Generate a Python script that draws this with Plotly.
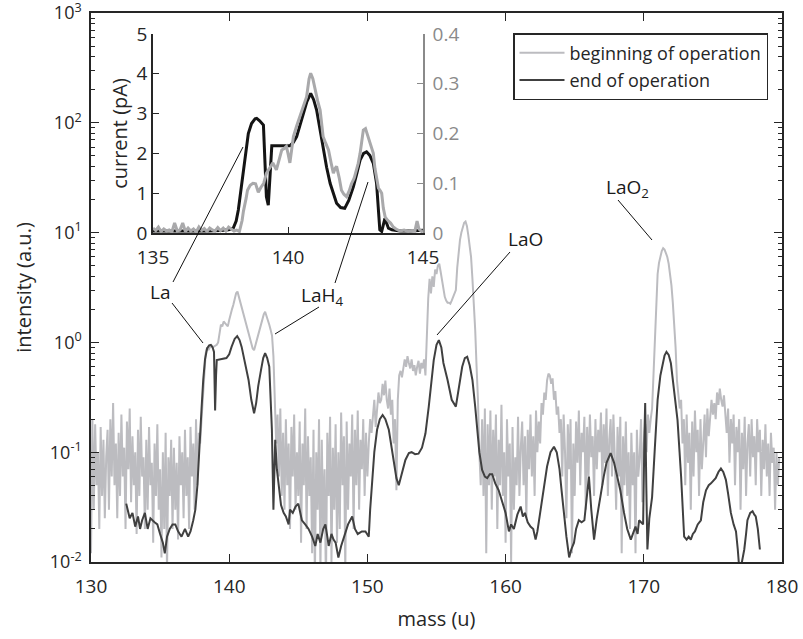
import numpy as np
import plotly.graph_objects as go

# ---------------- main spectrum: beginning of operation (grey), sampled every 0.1 u from 130.0 ----------------
begin_start = 130.0
begin_step = 0.1
begin_intensity = [
    # 130
    0.012, 0.2, 0.03, 0.18, 0.05, 0.1, 0.02, 0.17, 0.04, 0.13,
    # 131
    0.025, 0.09, 0.16, 0.03, 0.2, 0.06, 0.28, 0.05, 0.12, 0.025,
    # 132
    0.15, 0.04, 0.22, 0.06, 0.11, 0.02, 0.19, 0.07, 0.25, 0.035,
    # 133
    0.14, 0.05, 0.1, 0.018, 0.16, 0.04, 0.21, 0.06, 0.09, 0.02,
    # 134
    0.13, 0.03, 0.17, 0.05, 0.08, 0.015, 0.12, 0.04, 0.18, 0.03,
    # 135
    0.07, 0.011, 0.1, 0.02, 0.15, 0.008, 0.09, 0.04, 0.13, 0.02,
    # 136
    0.11, 0.03, 0.08, 0.016, 0.14, 0.05, 0.1, 0.025, 0.16, 0.04,
    # 137
    0.09, 0.02, 0.17, 0.06, 0.12, 0.03, 0.2, 0.05, 0.15, 0.12,
    # 138
    0.2, 0.35, 0.6, 0.8, 0.9, 0.85, 0.9, 0.95, 0.9, 0.92,
    # 139
    0.93, 0.95, 1.0, 1.25, 1.45, 1.4, 1.55, 1.5, 1.45, 1.4,
    # 140
    1.6, 1.85, 2.0, 2.2, 2.5, 2.8, 2.9, 2.6, 2.3, 2.1,
    # 141
    1.85, 1.65, 1.5, 1.35, 1.2, 1.05, 0.95, 0.88, 0.85, 0.95,
    # 142
    1.05, 1.15, 1.25, 1.45, 1.65, 1.8, 1.9, 1.75, 1.55, 1.45,
    # 143
    1.3, 1.15, 0.75, 0.3, 0.12, 0.22, 0.06, 0.25, 0.04, 0.15,
    # 144
    0.03, 0.2, 0.05, 0.12, 0.02, 0.17, 0.06, 0.22, 0.03, 0.1,
    # 145
    0.04, 0.19, 0.015, 0.12, 0.05, 0.25, 0.02, 0.14, 0.04, 0.09,
    # 146
    0.012, 0.16, 0.007, 0.1, 0.03, 0.2, 0.008, 0.13, 0.02, 0.07,
    # 147
    0.006, 0.15, 0.04, 0.21, 0.01, 0.11, 0.03, 0.18, 0.015, 0.1,
    # 148
    0.02, 0.23, 0.05, 0.14, 0.008, 0.19, 0.03, 0.12, 0.06, 0.22,
    # 149
    0.02, 0.16, 0.05, 0.24, 0.03, 0.13, 0.07, 0.2, 0.04, 0.15,
    # 150
    0.06, 0.12, 0.2, 0.15, 0.22, 0.3, 0.17, 0.25, 0.35, 0.28,
    # 151
    0.3, 0.42, 0.33, 0.45, 0.3, 0.25, 0.38, 0.22, 0.3, 0.12,
    # 152
    0.2, 0.045, 0.3, 0.5, 0.55, 0.48, 0.62, 0.7, 0.6, 0.75,
    # 153
    0.65, 0.58, 0.7, 0.55, 0.62, 0.5, 0.6, 0.68, 0.52, 0.65,
    # 154
    0.58, 0.7, 0.5, 1.2, 2.5, 3.8, 2.8, 4.0, 3.2, 4.6,
    # 155
    4.2, 5.0, 5.2, 4.4, 3.6, 3.0, 2.6, 2.4, 2.3, 2.3,
    # 156
    2.25, 2.4, 2.6, 2.8, 3.0, 4.8, 6.9, 8.6, 10.0, 11.3,
    # 157
    12.3, 12.6, 11.5, 9.5, 7.8, 6.0, 3.8, 2.4, 1.3, 0.6,
    # 158
    0.3, 0.1, 0.05, 0.2, 0.04, 0.25, 0.012, 0.18, 0.05, 0.24,
    # 159
    0.03, 0.16, 0.06, 0.22, 0.02, 0.13, 0.05, 0.27, 0.04, 0.1,
    # 160
    0.015, 0.2, 0.06, 0.12, 0.01, 0.17, 0.03, 0.09, 0.05, 0.21,
    # 161
    0.04, 0.11, 0.19, 0.05, 0.14, 0.025, 0.16, 0.07, 0.22, 0.06,
    # 162
    0.14, 0.04, 0.24, 0.1, 0.19, 0.12, 0.28, 0.22, 0.35, 0.3,
    # 163
    0.45, 0.52, 0.5, 0.42, 0.47, 0.3, 0.36, 0.22, 0.26, 0.15,
    # 164
    0.2, 0.06, 0.22, 0.1, 0.025, 0.18, 0.07, 0.2, 0.012, 0.12,
    # 165
    0.04, 0.19, 0.08, 0.24, 0.05, 0.15, 0.1, 0.21, 0.03, 0.17,
    # 166
    0.06, 0.22, 0.09, 0.14, 0.04, 0.2, 0.07, 0.16, 0.1, 0.23,
    # 167
    0.05, 0.18, 0.08, 0.25, 0.04, 0.13, 0.2, 0.06, 0.22, 0.09,
    # 168
    0.03, 0.17, 0.06, 0.21, 0.012, 0.14, 0.05, 0.19, 0.04, 0.1,
    # 169
    0.02, 0.15, 0.05, 0.1, 0.012, 0.16, 0.06, 0.09, 0.2, 0.035,
    # 170
    0.12, 0.18, 0.1, 0.22, 0.15, 0.2, 0.25, 0.5, 1.0, 2.2,
    # 171
    4.2, 5.3, 6.2, 6.8, 7.2, 7.0, 6.5, 6.0, 5.2, 4.2,
    # 172
    3.3, 2.3, 1.5, 0.9, 0.45, 0.35, 0.25, 0.3, 0.12, 0.2,
    # 173
    0.05, 0.22, 0.08, 0.15, 0.03, 0.19, 0.06, 0.24, 0.1, 0.16,
    # 174
    0.04, 0.2, 0.07, 0.12, 0.22, 0.09, 0.25, 0.14, 0.2, 0.3,
    # 175
    0.22, 0.28, 0.2, 0.35, 0.27, 0.38, 0.3, 0.26, 0.33, 0.2,
    # 176
    0.15, 0.25, 0.08, 0.2, 0.12, 0.22, 0.05, 0.17, 0.1, 0.2,
    # 177
    0.03, 0.15, 0.07, 0.21, 0.04, 0.12, 0.18, 0.06, 0.2, 0.09,
    # 178
    0.14, 0.05, 0.2, 0.1, 0.16, 0.04, 0.13, 0.07, 0.18, 0.06,
    # 179
    0.12, 0.04, 0.15, 0.08, 0.11, 0.03, 0.1, 0.05, 0.09,
]
begin_mass = np.round(begin_start + begin_step * np.arange(len(begin_intensity)), 2)

# ---------------- main spectrum: end of operation (dark) ----------------
end_mass = [
    132.55, 132.8, 133.0, 133.2, 133.4, 133.55, 133.7, 133.9, 134.1, 134.3, 134.6, 134.8,
    135.0, 135.2, 135.34, 135.5, 135.7, 135.9, 136.1, 136.3, 136.55, 136.8, 137.03, 137.2,
    137.4, 137.55, 137.7, 137.87, 138.0, 138.12, 138.25, 138.4, 138.55, 138.67, 138.8, 138.9,
    138.98, 139.05, 139.1, 139.8, 140.0, 140.17, 140.4, 140.58, 140.75, 140.9, 141.15, 141.4,
    141.6, 141.8, 141.95, 142.1, 142.3, 142.46, 142.6, 142.75, 142.9, 143.0, 143.09, 143.2,
    143.33, 143.45, 143.57, 143.75, 143.94, 144.1, 144.3, 144.4, 144.6, 144.8, 145.0, 145.26,
    145.5, 145.74, 146.0, 146.23, 146.4, 146.6, 146.8, 146.96, 147.1, 147.2, 147.4, 147.55,
    147.7, 147.9, 148.1, 148.4, 148.6, 148.9, 149.1, 149.3, 149.6, 149.86, 150.1, 150.2,
    150.34, 150.5, 150.7, 150.9, 151.1, 151.3, 151.55, 151.75, 151.9, 152.1, 152.27, 152.5,
    152.75, 153.0, 153.2, 153.45, 153.7, 153.95, 154.2, 154.44, 154.6, 154.8, 155.0, 155.17,
    155.35, 155.5, 155.8, 156.1, 156.4, 156.6, 156.86, 157.05, 157.22, 157.4, 157.6, 157.8,
    157.95, 158.1, 158.3, 158.5, 158.67, 158.85, 159.03, 159.25, 159.5, 159.75, 160.0, 160.24,
    160.4, 160.6, 160.85, 161.09, 161.25, 161.4, 161.6, 161.8, 162.0, 162.17, 162.3, 162.5,
    162.75, 163.0, 163.25, 163.5, 163.7, 163.9, 164.05, 164.2, 164.4, 164.6, 164.75, 164.95,
    165.1, 165.3, 165.5, 165.7, 165.85, 166.03, 166.2, 166.4, 166.6, 166.9, 167.1, 167.3,
    167.6, 167.85, 168.1, 168.3, 168.57, 168.8, 169.06, 169.25, 169.4, 169.55, 169.66, 169.8,
    169.95, 170.05, 170.1, 170.18, 170.26, 170.4, 170.6, 170.8, 171.0, 171.2, 171.35, 171.5,
    171.64, 171.8, 171.96, 172.2, 172.44, 172.7, 172.92, 173.1, 173.25, 173.4, 173.55, 173.7,
    173.9, 174.13, 174.3, 174.5, 174.7, 174.86, 175.05, 175.2, 175.4, 175.58, 175.75, 175.94,
    176.1, 176.3, 176.5, 176.67, 176.8, 176.9, 177.1, 177.27, 177.4, 177.5, 177.7, 177.87,
    178.0, 178.1, 178.25, 178.4,
]
end_intensity = [
    0.034, 0.025, 0.028, 0.021, 0.026, 0.02, 0.024, 0.028, 0.02, 0.025, 0.023, 0.022,
    0.018, 0.015, 0.012, 0.017, 0.02, 0.022, 0.022, 0.019, 0.017, 0.02, 0.017, 0.019,
    0.024, 0.03, 0.05, 0.11, 0.25, 0.455, 0.7, 0.88, 0.94, 0.95, 0.9, 0.82,
    0.24, 0.5, 0.69, 0.72, 0.78, 0.91, 1.08, 1.14, 1.05, 0.91, 0.65, 0.455,
    0.3, 0.226, 0.28, 0.4, 0.56, 0.72, 0.8, 0.72, 0.6, 0.3, 0.16, 0.03,
    0.13, 0.07, 0.049, 0.033, 0.028, 0.026, 0.022, 0.03, 0.028, 0.032, 0.034, 0.024,
    0.022, 0.02, 0.017, 0.014, 0.018, 0.015, 0.02, 0.022, 0.017, 0.014, 0.018, 0.016,
    0.015, 0.011, 0.014, 0.019, 0.022, 0.026, 0.02, 0.018, 0.019, 0.019, 0.017, 0.03,
    0.056, 0.1, 0.16, 0.2, 0.218, 0.2, 0.16, 0.11, 0.079, 0.058, 0.05, 0.065,
    0.085, 0.098, 0.1, 0.096, 0.097, 0.11, 0.148, 0.26, 0.42, 0.69, 0.95, 1.05,
    0.9, 0.65, 0.455, 0.3, 0.26, 0.38, 0.6, 0.72, 0.74, 0.62, 0.455, 0.26,
    0.16, 0.1, 0.069, 0.06, 0.058, 0.063, 0.063, 0.052, 0.045, 0.036, 0.028, 0.019,
    0.022, 0.02, 0.027, 0.032, 0.026, 0.028, 0.023, 0.021, 0.02, 0.016, 0.019, 0.028,
    0.045, 0.074, 0.1, 0.112, 0.1, 0.07, 0.045, 0.028, 0.017, 0.011, 0.013, 0.015,
    0.02, 0.024, 0.023, 0.024, 0.035, 0.06, 0.03, 0.016, 0.025, 0.045, 0.06, 0.08,
    0.098, 0.08, 0.056, 0.045, 0.028, 0.02, 0.016, 0.019, 0.021, 0.018, 0.024, 0.023,
    0.022, 0.15, 0.28, 0.05, 0.013, 0.025, 0.039, 0.11, 0.3, 0.5, 0.645, 0.76,
    0.82, 0.77, 0.645, 0.36, 0.196, 0.06, 0.017, 0.016, 0.017, 0.016, 0.018, 0.019,
    0.022, 0.024, 0.035, 0.045, 0.05, 0.052, 0.055, 0.058, 0.066, 0.071, 0.066, 0.056,
    0.042, 0.028, 0.022, 0.019, 0.013, 0.009, 0.01, 0.013, 0.018, 0.024, 0.028, 0.029,
    0.027, 0.026, 0.02, 0.013,
]

# ---------------- inset: current (pA), end of operation (left axis) ----------------
inset_end_mass = [
    135.0, 135.5, 136.0, 136.5, 137.0, 137.5, 137.8, 137.97, 138.08, 138.16, 138.25, 138.35,
    138.45, 138.53, 138.65, 138.78, 138.84, 138.95, 139.09, 139.15, 139.2, 139.27, 139.33, 139.4,
    140.07, 140.2, 140.32, 140.45, 140.57, 140.7, 140.84, 140.95, 141.06, 141.18, 141.3, 141.43,
    141.56, 141.68, 141.8, 141.95, 142.1, 142.25, 142.42, 142.55, 142.67, 142.8, 142.91, 143.03,
    143.16, 143.28, 143.35, 143.4, 143.47, 143.52, 143.59, 143.65, 143.72, 143.85, 144.15, 144.5,
    145.0,
]
inset_end_current = [
    0.05, 0.05, 0.04, 0.04, 0.05, 0.06, 0.08, 0.12, 0.3, 0.58, 1.05, 1.67,
    2.15, 2.5, 2.75, 2.87, 2.88, 2.82, 2.71, 1.8, 0.91, 0.7, 1.5, 2.19,
    2.19, 2.28, 2.42, 2.7, 3.0, 3.3, 3.51, 3.35, 3.09, 2.6, 2.09, 1.65,
    1.25, 0.97, 0.75, 0.64, 0.62, 0.82, 1.16, 1.5, 1.83, 2.0, 2.04, 1.95,
    1.75, 1.25, 0.6, 0.08, 0.04, 0.2, 0.37, 0.25, 0.12, 0.08, 0.05, 0.05,
    0.07,
]

# ---------------- inset: beginning of operation (right axis) ----------------
inset_begin_mass = [
    135.0, 135.1, 135.2, 135.3, 135.4, 135.5, 135.6, 135.7, 135.8, 135.9,
    136.0, 136.1, 136.2, 136.3, 136.4, 136.5, 136.6, 136.7, 136.8, 136.9,
    137.0, 137.1, 137.2, 137.3, 137.4, 137.5, 137.6, 137.7, 137.8, 137.9,
    138.0, 138.1, 138.2, 138.3, 138.35, 138.45, 138.5, 138.6, 138.7, 138.8,
    138.9, 139.0, 139.1, 139.2, 139.3, 139.44, 139.57, 139.67, 139.77, 139.86,
    139.94, 140.0, 140.07, 140.13, 140.2, 140.32, 140.44, 140.56, 140.69, 140.78,
    140.84, 140.92, 141.0, 141.1, 141.19, 141.3, 141.4, 141.5, 141.6, 141.68,
    141.75, 141.8, 141.9, 141.98, 142.07, 142.17, 142.27, 142.35, 142.45, 142.54,
    142.6, 142.67, 142.73, 142.79, 142.87, 142.95, 143.03, 143.1, 143.16, 143.22,
    143.28, 143.35, 143.42, 143.47, 143.53, 143.6, 143.7, 143.8, 143.9, 144.0,
    144.15, 144.3, 144.45, 144.6, 144.7, 144.78, 144.85, 144.95, 145.0,
]
inset_begin_value = [
    0.01, 0.005, 0.012, 0.003, 0.008, 0.004, 0.006, 0.002, 0.02, 0.004,
    0.006, 0.02, 0.003, 0.01, 0.004, 0.008, 0.002, 0.012, 0.005, 0.009,
    0.003, 0.01, 0.006, 0.004, 0.011, 0.005, 0.01, 0.004, 0.012, 0.008,
    0.004, 0.006, 0.003, 0.025, 0.044, 0.07, 0.086, 0.096, 0.1, 0.099,
    0.082, 0.092, 0.1, 0.12, 0.13, 0.141, 0.127, 0.15, 0.167, 0.17,
    0.174, 0.16, 0.141, 0.165, 0.194, 0.215, 0.234, 0.25, 0.274, 0.31,
    0.321, 0.31, 0.288, 0.265, 0.247, 0.194, 0.18, 0.167, 0.14, 0.12,
    0.13, 0.134, 0.11, 0.086, 0.078, 0.073, 0.085, 0.099, 0.11, 0.127,
    0.14, 0.16, 0.185, 0.207, 0.21, 0.195, 0.181, 0.17, 0.16, 0.13,
    0.11, 0.09, 0.085, 0.08, 0.05, 0.032, 0.025, 0.02, 0.012, 0.008,
    0.004, 0.006, 0.003, 0.005, 0.004, 0.024, 0.008, 0.003, 0.005,
]

# ---------------- tick labels ----------------
x_ticks = [130, 140, 150, 160, 170, 180]
y_tickvals = [0.01, 0.1, 1, 10, 100, 1000]
y_ticktext = ["10<sup>-2</sup>", "10<sup>-1</sup>", "10<sup>0</sup>",
              "10<sup>1</sup>", "10<sup>2</sup>", "10<sup>3</sup>"]
inset_x_ticks = [135, 140, 145]
legend_names = ["beginning of operation", "end of operation"]

# ---------------- style ----------------
FONT = "Open Sans"
AX = "#262626"
GREY_MAIN = "#bcbcc0"
DARK_MAIN = "#404040"
GREY_INSET = "#a9a9ab"
BLACK_INSET = "#141414"
RIGHT_AX = "#8a8a8a"

W, H = 803, 639
ML, MR, MT, MB = 91, 21, 13, 77
PW, PH = W - ML - MR, H - MT - MB


def px(xp):
    return (xp - ML) / PW


def py(yp):
    return (H - MB - yp) / PH


fig = go.Figure()

fig.add_trace(go.Scatter(x=begin_mass, y=begin_intensity, mode="lines", name=legend_names[0],
                         line=dict(color=GREY_MAIN, width=2), legendgroup="a"))
fig.add_trace(go.Scatter(x=end_mass, y=end_intensity, mode="lines", name=legend_names[1],
                         line=dict(color=DARK_MAIN, width=2), legendgroup="b"))

fig.add_trace(go.Scatter(x=inset_begin_mass, y=inset_begin_value, mode="lines", showlegend=False,
                         line=dict(color=GREY_INSET, width=3), xaxis="x2", yaxis="y3"))
fig.add_trace(go.Scatter(x=inset_end_mass, y=inset_end_current, mode="lines", showlegend=False,
                         line=dict(color=BLACK_INSET, width=3), xaxis="x2", yaxis="y2"))

TICK_SIZE = 19
TITLE_SIZE = 20
tickfont = dict(family=FONT, size=TICK_SIZE, color=AX)

inset_x0, inset_x1, inset_y0, inset_y1 = 153, 423, 34, 233

fig.update_layout(
    width=W, height=H,
    margin=dict(l=ML, r=MR, t=MT, b=MB, autoexpand=False),
    paper_bgcolor="white", plot_bgcolor="white",
    font=dict(family=FONT, size=TICK_SIZE, color=AX),
    xaxis=dict(domain=[0, 1], range=[130, 180], tickmode="array", tickvals=x_ticks, automargin=False,
               showline=True, linecolor=AX, linewidth=1.5, mirror="allticks",
               ticks="inside", ticklen=8, tickwidth=1.2, tickcolor=AX, ticklabelstandoff=6,
               ticklabeloverflow="allow",
               showgrid=False, zeroline=False, tickfont=tickfont,
               title=dict(text="mass (u)", font=dict(family=FONT, size=TITLE_SIZE, color=AX), standoff=14)),
    yaxis=dict(domain=[0, 1], type="log", range=[-2, 3], tickmode="array", automargin=False,
               tickvals=y_tickvals, ticktext=y_ticktext, ticklabeloverflow="allow",
               showline=True, linecolor=AX, linewidth=1.5, mirror="allticks",
               ticks="inside", ticklen=8, tickwidth=1.2, tickcolor=AX, ticklabelstandoff=4,
               minor=dict(tickmode="array",
                          tickvals=[m * 10.0 ** e for e in range(-2, 3) for m in range(2, 10)],
                          ticks="inside", ticklen=4, tickwidth=1, tickcolor=AX, showgrid=False),
               showgrid=False, zeroline=False, tickfont=dict(family=FONT, size=18, color=AX),
               title=dict(text="intensity (a.u.)", font=dict(family=FONT, size=TITLE_SIZE, color=AX), standoff=13)),
    xaxis2=dict(domain=[px(inset_x0), px(inset_x1)], anchor="y2", range=[135, 145], automargin=False,
                tickmode="array", tickvals=inset_x_ticks, ticklabeloverflow="allow", ticklabelstandoff=6,
                showline=True, linecolor=AX, linewidth=1.5, ticks="inside", ticklen=6,
                tickcolor=AX, showgrid=False, zeroline=False, tickfont=tickfont),
    yaxis2=dict(domain=[py(inset_y1), py(inset_y0)], anchor="x2", range=[0, 5], dtick=1, automargin=False,
                showline=True, linecolor=AX, linewidth=1.5, ticks="inside", ticklen=6,
                ticklabeloverflow="allow",
                tickcolor=AX, showgrid=False, zeroline=False, tickfont=tickfont,
                title=dict(text="current (pA)", font=dict(family=FONT, size=TITLE_SIZE, color=AX), standoff=4)),
    yaxis3=dict(overlaying="y2", anchor="x2", side="right", range=[0, 0.4], dtick=0.1, automargin=False,
                showline=True, linecolor=RIGHT_AX, linewidth=1.5, ticks="inside", ticklen=6,
                tickcolor=RIGHT_AX, showgrid=False, zeroline=False, ticklabelstandoff=4,
                ticklabeloverflow="allow",
                tickfont=dict(family=FONT, size=TICK_SIZE, color=RIGHT_AX)),
    legend=dict(x=px(513), y=py(33), xanchor="left", yanchor="top",
                bgcolor="white", bordercolor=AX, borderwidth=1.5, itemwidth=45,
                font=dict(family=FONT, size=18, color=AX), tracegroupgap=1),
)

# annotation labels
labels = [("La", 160, 292), ("LaH<sub>4</sub>", 322, 296), ("LaO", 525, 239), ("LaO<sub>2</sub>", 627, 188)]
for txt, lx, ly in labels:
    fig.add_annotation(text=txt, x=px(lx), y=py(ly), xref="paper", yref="paper",
                       showarrow=False, xanchor="center", yanchor="middle",
                       font=dict(family=FONT, size=19, color="#1a1a1a"))

leaders = [(172, 303, 203, 343), (173, 282, 243, 147), (319, 307, 275, 334),
           (335, 283, 368, 182), (510, 252, 437, 335), (618, 200, 652, 240)]
for x0, y0, x1, y1 in leaders:
    fig.add_shape(type="line", xref="paper", yref="paper", x0=px(x0), y0=py(y0), x1=px(x1), y1=py(y1),
                  line=dict(color="#111111", width=1))

fig.write_html("out.html")
